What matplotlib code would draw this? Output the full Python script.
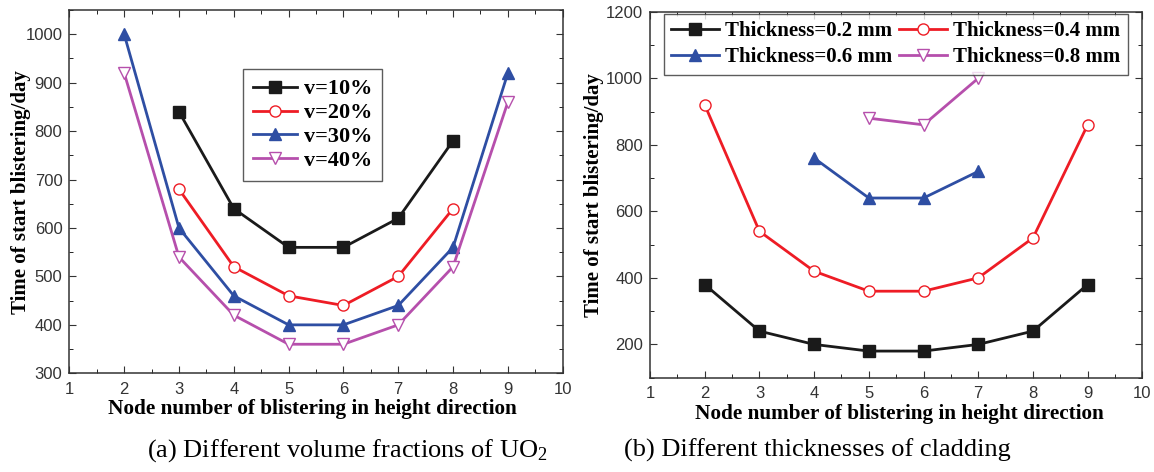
import matplotlib.pyplot as plt
from matplotlib.ticker import MultipleLocator

# Data
nodes_a1 = [3, 4, 5, 6, 7, 8]
v10 = [840, 640, 560, 560, 620, 780]
v20 = [680, 520, 460, 440, 500, 640]
nodes_a2 = [2, 3, 4, 5, 6, 7, 8, 9]
v30 = [1000, 600, 460, 400, 400, 440, 560, 920]
v40 = [920, 540, 420, 360, 360, 400, 520, 860]

nodes_b1 = [2, 3, 4, 5, 6, 7, 8, 9]
t02 = [380, 240, 200, 180, 180, 200, 240, 380]
t04 = [920, 540, 420, 360, 360, 400, 520, 860]
nodes_b3 = [4, 5, 6, 7]
t06 = [760, 640, 640, 720]
nodes_b4 = [5, 6, 7]
t08 = [880, 860, 1000]

black = "#1a1a1a"
red = "#ee1c25"
blue = "#2e4ea3"
magenta = "#b64fac"

serif = "Liberation Serif"
sans = "Liberation Sans"
plt.rcParams["mathtext.fontset"] = "custom"
plt.rcParams["mathtext.rm"] = serif
plt.rcParams["mathtext.it"] = serif + ":italic"

fig = plt.figure(figsize=(11.54, 4.72), dpi=100)
axa = fig.add_axes([0.0601, 0.2091, 0.4275, 0.7697])
axb = fig.add_axes([0.5633, 0.1998, 0.4266, 0.7754])

lw = 2
ms = 8
axa.plot(nodes_a1, v10, color=black, lw=lw, marker="s", ms=ms, label="v=10%")
axa.plot(nodes_a1, v20, color=red, lw=lw, marker="o", ms=ms, mfc="white", label="v=20%")
axa.plot(nodes_a2, v30, color=blue, lw=lw, marker="^", ms=ms + 1, label="v=30%")
axa.plot(nodes_a2, v40, color=magenta, lw=lw, marker="v", ms=ms + 1, mfc="white", label="v=40%")

b1, = axb.plot(nodes_b1, t02, color=black, lw=lw, marker="s", ms=ms, label="Thickness=0.2 mm")
b2, = axb.plot(nodes_b1, t04, color=red, lw=lw, marker="o", ms=ms, mfc="white", label="Thickness=0.4 mm")
b3, = axb.plot(nodes_b3, t06, color=blue, lw=lw, marker="^", ms=ms + 1, label="Thickness=0.6 mm")
b4, = axb.plot(nodes_b4, t08, color=magenta, lw=lw, marker="v", ms=ms + 1, mfc="white", label="Thickness=0.8 mm")

axa.set_xlim(1, 10)
axa.set_ylim(300, 1050)
axa.yaxis.set_major_locator(MultipleLocator(100))
axa.yaxis.set_minor_locator(MultipleLocator(50))

axb.set_xlim(1, 10)
axb.set_ylim(100, 1200)
axb.yaxis.set_major_locator(MultipleLocator(200))
axb.yaxis.set_minor_locator(MultipleLocator(100))

for ax in (axa, axb):
    ax.xaxis.set_major_locator(MultipleLocator(1))
    ax.xaxis.set_minor_locator(MultipleLocator(0.5))
    ax.tick_params(which="both", direction="in", top=True, right=True)
    ax.tick_params(which="major", length=5, labelsize=12, colors="#333333")
    ax.tick_params(which="minor", length=3)
    ax.tick_params(axis="x", pad=6)
    ax.tick_params(axis="y", pad=5)
    for lab in ax.get_xticklabels() + ax.get_yticklabels():
        lab.set_fontfamily(sans)
    for sp in ax.spines.values():
        sp.set_linewidth(1.1)
        sp.set_color("#333333")
    ax.set_xlabel("Node number of blistering in height direction", fontfamily=serif,
                  fontweight="bold", fontsize=15.3, va="top")
    ax.set_ylabel("Time of start blistering/day", fontfamily=serif,
                  fontweight="bold", fontsize=15)

axa.xaxis.set_label_coords(0.493, -0.072)
axb.xaxis.set_label_coords(0.506, -0.072)
axa.yaxis.set_label_coords(-0.078, 0.5)
axb.yaxis.set_label_coords(-0.093, 0.5)

axa.legend(loc="upper left", bbox_to_anchor=(0.352, 0.838), borderaxespad=0,
           frameon=True, fancybox=False, edgecolor="#333333",
           prop={"family": serif, "weight": "bold", "size": 16},
           handlelength=2.0, handletextpad=0.3, labelspacing=0.15, borderpad=0.45)
axb.legend([b1, b3, b2, b4], [b1.get_label(), b3.get_label(), b2.get_label(), b4.get_label()],
           loc="upper left", bbox_to_anchor=(0.0284, 0.994), borderaxespad=0,
           ncol=2, frameon=True, fancybox=False, edgecolor="#333333",
           prop={"family": serif, "weight": "bold", "size": 15},
           handlelength=2.3, handletextpad=0.3, labelspacing=0.3, columnspacing=0.3,
           borderpad=0.35)

fig.text(0.301, 0.032, "(a) Different volume fractions of UO$_2$", fontfamily=serif,
         fontsize=19, ha="center", va="baseline")
fig.text(0.708, 0.032, "(b) Different thicknesses of cladding", fontfamily=serif,
         fontsize=19, ha="center", va="baseline")

fig.savefig("out.png", dpi=100)
